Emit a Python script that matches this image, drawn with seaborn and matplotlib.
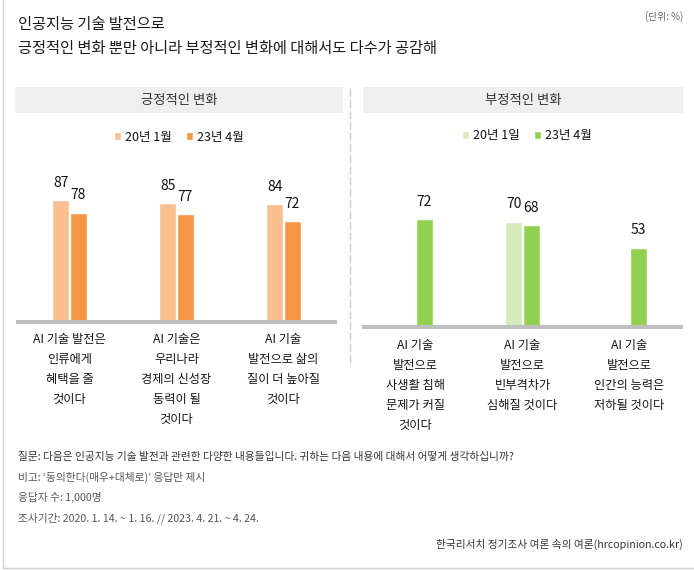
import numpy as np
import pandas as pd
import matplotlib
matplotlib.use("Agg")
import matplotlib.pyplot as plt
from matplotlib.patches import Rectangle
from matplotlib.lines import Line2D
import seaborn as sns

# ---------------- data ----------------
pos_categories = ["AI 기술 발전은\n인류에게\n혜택을 줄\n것이다",
                  "AI 기술은\n우리나라\n경제의 신성장\n동력이 될\n것이다",
                  "AI 기술\n발전으로 삶의\n질이 더 높아질\n것이다"]
pos_periods = ["20년 1월", "23년 4월"]
pos_2001 = [87, 85, 84]
pos_2304 = [78, 77, 72]

neg_categories = ["AI 기술\n발전으로\n사생활 침해\n문제가 커질\n것이다",
                  "AI 기술\n발전으로\n빈부격차가\n심해질 것이다",
                  "AI 기술\n발전으로\n인간의 능력은\n저하될 것이다"]
neg_periods = ["20년 1일", "23년 4월"]
neg_2001 = [np.nan, 70, np.nan]
neg_2304 = [72, 68, 53]

title_lines = ["인공지능 기술 발전으로",
               "긍정적인 변화 뿐만 아니라 부정적인 변화에 대해서도 다수가 공감해"]
unit_text = "(단위: %)"
panel_titles = ["긍정적인 변화", "부정적인 변화"]
notes = ["질문: 다음은 인공지능 기술 발전과 관련한 다양한 내용들입니다. 귀하는 다음 내용에 대해서 어떻게 생각하십니까?",
         "비고: ‘동의한다(매우+대체로)’ 응답만 제시",
         "응답자 수: 1,000명",
         "조사기간: 2020. 1. 14. ~ 1. 16. // 2023. 4. 21. ~ 4. 24."]
source_text = "한국리서치 정기조사 여론 속의 여론(hrcopinion.co.kr)"

# ---------------- style ----------------
sns.set_theme(style="white")
plt.rcParams["font.family"] = ["Noto Sans CJK KR", "DejaVu Sans"]

W, H = 694, 570
fig = plt.figure(figsize=(W / 100, H / 100), dpi=100)
fig.patch.set_facecolor("white")


def fx(x):
    return x / W


def fy(y):
    return 1 - y / H


def px2pt(p):
    return p * 72 / 100


def add_ax(x0, x1, y_top, y_bot):
    return fig.add_axes([fx(x0), fy(y_bot), (x1 - x0) / W, (y_bot - y_top) / H])


# border (left & bottom)
fig.add_artist(Line2D([fx(3), fx(3)], [fy(568), 1], transform=fig.transFigure,
                      color="#cfcfcf", lw=1))
fig.add_artist(Line2D([fx(3), 1], [fy(568), fy(568)], transform=fig.transFigure,
                      color="#cfcfcf", lw=1))

# titles
fig.text(fx(18), fy(25), title_lines[0], fontsize=11, color="#1a1a1a", va="center", ha="left")
fig.text(fx(18), fy(48), title_lines[1], fontsize=11, color="#1a1a1a", va="center", ha="left")
fig.text(fx(683), fy(17), unit_text, fontsize=7, color="#666666", va="center", ha="right")

# panel header boxes
for (x0, x1), t in zip([(15, 343), (363, 683)], panel_titles):
    fig.add_artist(Rectangle((fx(x0), fy(113)), (x1 - x0) / W, 26 / H,
                             transform=fig.transFigure, facecolor="#efefef", edgecolor="none"))
    fig.text(fx((x0 + x1) / 2), fy(100), t, fontsize=9.6, color="#333333", ha="center", va="center")

# separator
fig.add_artist(Line2D([fx(350), fx(350)], [fy(88), fy(367)], transform=fig.transFigure,
                      color="#cccccc", lw=1, linestyle=(0, (6, 2))))


def draw_panel(ax, cats, periods, v1, v2, colors, legend_center, label_off_px):
    df = pd.DataFrame({
        "category": cats * 2,
        "period": [periods[0]] * len(cats) + [periods[1]] * len(cats),
        "value": list(v1) + list(v2),
    })
    sns.barplot(data=df, x="category", y="value", hue="period", order=cats,
                hue_order=periods, palette=colors, width=0.33, gap=0.06,
                saturation=1, errorbar=None, ax=ax, legend=True)
    ax.set_ylim(0, 100)
    ax.set_xlim(-0.5, len(cats) - 0.5)
    ax.set_facecolor("none")
    for s in ["left", "right", "top"]:
        ax.spines[s].set_visible(False)
    ax.spines["bottom"].set_color("#bfbfbf")
    ax.spines["bottom"].set_linewidth(px2pt(4))
    ax.spines["bottom"].set_capstyle("butt")
    ax.set_xticks([])
    ax.set_yticks([])
    ax.set_xlabel("")
    ax.set_ylabel("")

    # value labels
    for cont in ax.containers:
        for bar in cont:
            h = bar.get_height()
            if np.isnan(h):
                continue
            ax.annotate(f"{h:.0f}", (bar.get_x() + bar.get_width() / 2, h),
                        xytext=(0, px2pt(label_off_px)), textcoords="offset points",
                        ha="center", va="center", fontsize=10, color="#111111")

    # category labels
    for i, c in enumerate(cats):
        for j, line in enumerate(c.split("\n")):
            ax.annotate(line, (i, 0), xycoords=("data", "axes fraction"),
                        xytext=(0, -px2pt(18 + 20 * j)), textcoords="offset points",
                        ha="center", va="center", fontsize=8.8, color="#151515")

    # legend
    handles, labels = ax.get_legend_handles_labels()
    if ax.get_legend() is not None:
        ax.get_legend().remove()
    leg = ax.legend(handles, labels, loc="center",
                    bbox_to_anchor=(fx(legend_center[0]), fy(legend_center[1])),
                    bbox_transform=fig.transFigure, ncol=2, frameon=False,
                    handlelength=0.55, handleheight=0.55, handletextpad=0.35,
                    columnspacing=1.1, fontsize=9, borderpad=0, borderaxespad=0)
    for t in leg.get_texts():
        t.set_color("#111111")


ax1 = add_ax(16, 337, 321.5 - 139.5, 321.5)
draw_panel(ax1, pos_categories, pos_periods, pos_2001, pos_2304,
           ["#fac090", "#f79646"], (179, 137), 17.3)

ax2 = add_ax(362, 683, 327 - 150, 327)
draw_panel(ax2, neg_categories, neg_periods, neg_2001, neg_2304,
           ["#d4ecba", "#92d050"], (527, 136), 17.5)

# footnotes
note_y = [457, 477, 497, 518]
note_colors = ["#333333", "#555555", "#555555", "#555555"]
for t, y, c in zip(notes, note_y, note_colors):
    fig.text(fx(18), fy(y), t, fontsize=7.7, color=c, ha="left", va="center")
fig.text(fx(683), fy(544), source_text, fontsize=7.7, color="#333333", ha="right", va="center")

fig.savefig("out.png", dpi=100)
